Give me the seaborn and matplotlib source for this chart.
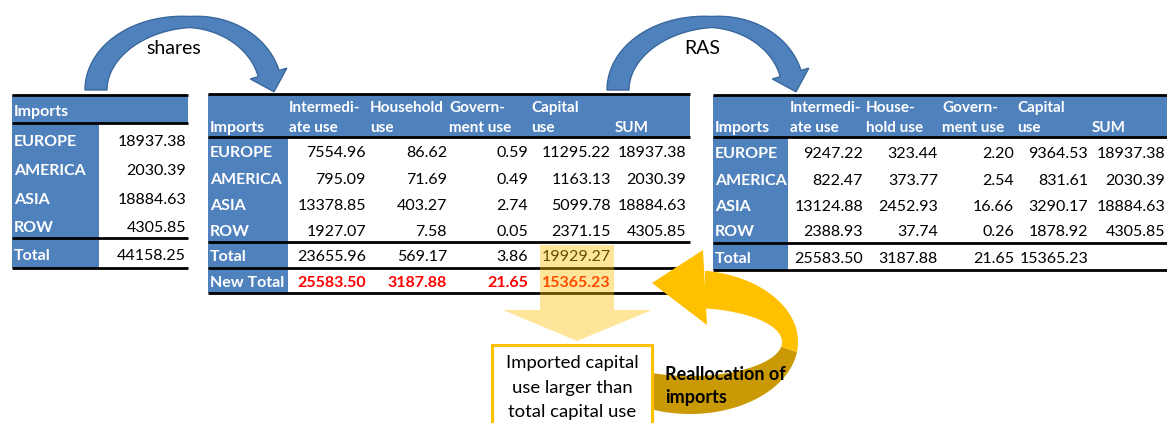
import numpy as np
import matplotlib
matplotlib.use("Agg")
import matplotlib.pyplot as plt
from matplotlib.patches import Rectangle, Polygon
import seaborn as sns

# --- data ---
regions = ["EUROPE", "AMERICA", "ASIA", "ROW"]
imports = [18937.38, 2030.39, 18884.63, 4305.85]
imports_total = 44158.25

share_headers = [("Intermedi-", "ate use"), ("Household", "use"),
                 ("Govern-", "ment use"), ("Capital", "use"), ("", "SUM")]
share_intermediate = [7554.96, 795.09, 13378.85, 1927.07]
share_household = [86.62, 71.69, 403.27, 7.58]
share_government = [0.59, 0.49, 2.74, 0.05]
share_capital = [11295.22, 1163.13, 5099.78, 2371.15]
share_totals = [23655.96, 569.17, 3.86, 19929.27]
new_totals = [25583.50, 3187.88, 21.65, 15365.23]

ras_headers = [("Intermedi-", "ate use"), ("House-", "hold use"),
               ("Govern-", "ment use"), ("Capital", "use"), ("", "SUM")]
ras_intermediate = [9247.22, 822.47, 13124.88, 2388.93]
ras_household = [323.44, 373.77, 2452.93, 37.74]
ras_government = [2.20, 2.54, 16.66, 0.26]
ras_capital = [9364.53, 831.61, 3290.17, 1878.92]
ras_totals = [25583.50, 3187.88, 21.65, 15365.23]

BLUE = "#4F81BD"
BLUE_EDGE = "#3A679C"
GOLD = "#FFC000"
DARK_GOLD = "#C99A06"
FS = 11.5
HFS = 11

sns.set_theme(style="white")
plt.rcParams["font.family"] = ["Lato", "DejaVu Sans"]

fig = plt.figure(figsize=(11.67, 4.23), dpi=100)
ax = fig.add_axes([0, 0, 1, 1])
ax.set_xlim(0, 1167)
ax.set_ylim(423, 0)
ax.axis("off")


def fmt(v):
    return f"{v:.2f}"


def hline(y, x0, x1):
    ax.plot([x0, x1], [y, y], color="black", lw=2, solid_capstyle="butt", zorder=3)


def draw_table(x0, x1, lab_x1, top, head_bot, bottom, lines, head_lefts, headers,
               val_rights, row_ys, columns, extra_rows):
    ax.add_patch(Rectangle((x0, top), x1 - x0, head_bot - top, color=BLUE, lw=0, zorder=1))
    ax.add_patch(Rectangle((x0, head_bot), lab_x1 - x0, bottom - head_bot, color=BLUE, lw=0, zorder=1))
    for y in lines:
        hline(y, x0, x1)
    ax.text(x0 + 2, head_bot - 9, "Imports", color="white", fontweight="bold",
            fontsize=FS, va="center", ha="left", zorder=4)
    for hx, (l1, l2) in zip(head_lefts, headers):
        ax.text(hx, head_bot - 29, l1, color="white", fontweight="bold",
                fontsize=HFS, va="center", ha="left", zorder=4)
        ax.text(hx, head_bot - 9, l2, color="white", fontweight="bold",
                fontsize=HFS, va="center", ha="left", zorder=4)
    for i, (reg, y) in enumerate(zip(regions, row_ys)):
        ax.text(x0 + 2, y, reg, color="white", fontweight="bold", fontsize=FS,
                va="center", ha="left", zorder=4)
        for xr, col in zip(val_rights, columns):
            ax.text(xr, y, fmt(col[i]), color="black", fontsize=FS,
                    va="center", ha="right", zorder=4)
    for label, y, vals, color, weight in extra_rows:
        ax.text(x0 + 2, y, label, color="white", fontweight="bold", fontsize=FS,
                va="center", ha="left", zorder=4)
        for xr, v in zip(val_rights, vals):
            ax.text(xr, y, fmt(v), color=color, fontweight=weight, fontsize=FS,
                    va="center", ha="right", zorder=4)


# left table: imports by region
ax.add_patch(Rectangle((12, 95), 176, 28, color=BLUE, lw=0, zorder=1))
ax.add_patch(Rectangle((12, 123), 87, 145, color=BLUE, lw=0, zorder=1))
for y in [95, 123, 238, 268]:
    hline(y, 12, 188)
ax.text(14, 112, "Imports", color="white", fontweight="bold", fontsize=FS, va="center", zorder=4)
for reg, v, y in zip(regions, imports, [142, 171, 200, 228]):
    ax.text(14, y, reg, color="white", fontweight="bold", fontsize=FS, va="center", zorder=4)
    ax.text(186, y, fmt(v), color="black", fontsize=FS, va="center", ha="right", zorder=4)
ax.text(14, 256, "Total", color="white", fontweight="bold", fontsize=FS, va="center", zorder=4)
ax.text(186, 256, fmt(imports_total), color="black", fontsize=FS, va="center", ha="right", zorder=4)

# middle table: shares
draw_table(208, 690, 288, 94, 137, 293, [94, 137, 242, 268, 293],
           [289, 370, 449, 531, 615], share_headers,
           [366, 447, 528, 611, 686], [153, 180, 206, 232],
           [share_intermediate, share_household, share_government, share_capital, imports],
           [("Total", 257, share_totals, "black", "normal"),
            ("New Total", 283, new_totals, "red", "bold")])

# right table: RAS
draw_table(713, 1167, 788, 95, 137, 270, [95, 137, 243, 270],
           [790, 866, 942, 1017, 1092], ras_headers,
           [863, 938, 1014, 1088, 1165], [154, 181, 207, 232],
           [ras_intermediate, ras_household, ras_government, ras_capital, imports],
           [("Total", 259, ras_totals, "black", "normal")])

# translucent highlight of the capital column + downward arrow
ax.add_patch(Polygon([(540, 245), (614, 245), (614, 310), (652, 310), (577, 341),
                      (503, 310), (540, 310)], closed=True, facecolor=GOLD,
                     alpha=0.4, lw=0, zorder=6))

# note box
ax.add_patch(Rectangle((492, 345), 160, 90, facecolor="white", edgecolor=GOLD,
                       lw=2.2, zorder=8))
for txt, y in zip(["Imported capital", "use larger than", "total capital use"], [363, 388, 412]):
    ax.text(572, y, txt, color="black", fontsize=13.3, ha="center", va="center", zorder=9)


# blue curved arrows
def blue_arc(dx, label, label_x):
    th = np.linspace(np.pi, np.radians(14), 120)
    rx = np.where(th > np.pi / 2, 94.0, 81.0)
    ry = 68.0
    cx, cy = 190 + dx, 90
    x = cx + rx * np.cos(th)
    y = cy - ry * np.sin(th)
    nx, ny = np.cos(th) / rx, -np.sin(th) / ry
    nn = np.hypot(nx, ny)
    nx, ny = nx / nn, ny / nn
    t = 11 + 11 * np.abs(np.cos(th))
    outer = np.column_stack([x + nx * t / 2, y + ny * t / 2])
    inner = np.column_stack([x - nx * t / 2, y - ny * t / 2])
    tx, ty = rx[-1] * np.sin(th[-1]), ry * np.cos(th[-1])
    tn = np.hypot(tx, ty)
    tx, ty = tx / tn, ty / tn
    ex, ey = x[-1], y[-1]
    hw, hl = 19, 19
    head = [(ex + nx[-1] * hw, ey + ny[-1] * hw), (ex + tx * hl, ey + ty * hl),
            (ex - nx[-1] * hw, ey - ny[-1] * hw)]
    pts = np.vstack([outer, head, inner[::-1]])
    ax.add_patch(Polygon(pts, closed=True, facecolor=BLUE, edgecolor=BLUE_EDGE, lw=1, zorder=2))
    ax.text(label_x, 48, label, fontsize=14, ha="center", va="center", color="black", zorder=4)


blue_arc(0, "shares", 174)
blue_arc(522, "RAS", 702)


# gold loop arrow (reallocation)
def ell(cx, cy, rx, ry, th):
    return np.column_stack([cx + rx * np.cos(th), cy - ry * np.sin(th)])


cx, cy = 690, 342
o_rx, o_ry, i_rx, i_ry = 108, 72, 92, 34
split = np.radians(-8)
o_start = np.arccos((705 - cx) / o_rx)
i_start = np.arccos((705 - cx) / i_rx)
o_end = -np.arccos((653 - cx) / o_rx)
i_end = -np.arccos((653 - cx) / i_rx)

light = np.vstack([ell(cx, cy, o_rx, o_ry, np.linspace(o_start, split, 80)),
                   ell(cx, cy, i_rx, i_ry, np.linspace(split, i_start, 80))])
dark = np.vstack([ell(cx, cy, o_rx, o_ry, np.linspace(split, o_end, 80)),
                  ell(cx, cy, i_rx, i_ry, np.linspace(i_end, split, 80))])
ax.add_patch(Polygon(dark, closed=True, facecolor=DARK_GOLD, lw=0, zorder=7))
ax.add_patch(Polygon(light, closed=True, facecolor=GOLD, lw=0, zorder=7))
ax.add_patch(Polygon([(652, 283), (703, 250), (707, 325)], closed=True,
                     facecolor=GOLD, lw=0, zorder=7))
ax.text(665, 375, "Reallocation of", fontsize=13, fontweight="bold", ha="left",
        va="center", color="black", zorder=9)
ax.text(665, 398, "imports", fontsize=13, fontweight="bold", ha="left",
        va="center", color="black", zorder=9)

fig.savefig("out.png", dpi=100)
